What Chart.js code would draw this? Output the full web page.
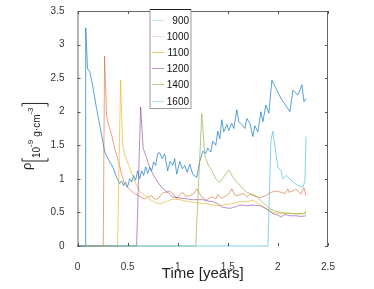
<!DOCTYPE html>
<html>
<head>
<meta charset="utf-8">
<script src="https://cdn.jsdelivr.net/npm/chart.js@4"></script>
<style>
  html, body { margin: 0; padding: 0; background: #fff; }
  #wrap { width: 374px; height: 289px; }
</style>
</head>
<body>
<div id="wrap"><canvas id="rhoChart" width="374" height="289"></canvas></div>
<script>
// legend labels
const labels = ['900', '1000', '1100', '1200', '1400', '1600'];

// time [years] and density values for each run
const t900 = [0, 0.075, 0.082, 0.10, 0.125, 0.157, 0.19, 0.24, 0.27, 0.30, 0.355, 0.39, 0.42, 0.44, 0.46, 0.48, 0.50, 0.52, 0.54, 0.56, 0.58, 0.60, 0.62, 0.64, 0.66, 0.68, 0.70, 0.72, 0.74, 0.76, 0.78, 0.80, 0.82, 0.845, 0.87, 0.90, 0.925, 0.95, 0.97, 0.99, 1.02, 1.045, 1.07, 1.095, 1.12, 1.15, 1.19, 1.22, 1.25, 1.28, 1.30, 1.33, 1.35, 1.38, 1.40, 1.42, 1.44, 1.46, 1.49, 1.51, 1.54, 1.56, 1.59, 1.61, 1.64, 1.67, 1.69, 1.72, 1.75, 1.77, 1.80, 1.83, 1.85, 1.88, 1.91, 1.94, 2.03, 2.12, 2.15, 2.20, 2.24, 2.26, 2.28];
const v900 = [0, 0, 3.25, 2.64, 2.59, 2.34, 2.05, 1.66, 1.41, 1.31, 1.17, 1.02, 0.93, 0.97, 0.90, 0.95, 0.88, 1.00, 0.95, 1.05, 0.98, 1.12, 1.00, 1.12, 1.05, 1.18, 1.08, 1.17, 1.12, 1.25, 1.20, 1.38, 1.39, 1.30, 1.37, 1.12, 1.26, 1.20, 1.30, 1.07, 1.26, 1.15, 1.20, 1.10, 1.22, 1.07, 1.02, 1.26, 1.41, 1.38, 1.46, 1.40, 1.56, 1.50, 1.71, 1.60, 1.88, 1.70, 1.81, 1.72, 1.83, 1.75, 2.03, 1.85, 1.81, 1.75, 1.90, 1.83, 1.63, 1.79, 1.70, 2.00, 1.85, 2.10, 1.98, 2.47, 2.20, 2.00, 2.32, 2.25, 2.40, 2.15, 2.20];

const t1000 = [0, 0.257, 0.27, 0.29, 0.31, 0.34, 0.37, 0.41, 0.44, 0.47, 0.50, 0.54, 0.57, 0.61, 0.64, 0.67, 0.70, 0.74, 0.77, 0.80, 0.83, 0.86, 0.89, 0.92, 0.95, 0.99, 1.02, 1.05, 1.08, 1.12, 1.16, 1.19, 1.24, 1.29, 1.32, 1.35, 1.38, 1.40, 1.44, 1.47, 1.49, 1.52, 1.54, 1.57, 1.59, 1.62, 1.66, 1.69, 1.72, 1.77, 1.82, 1.88, 1.93, 1.98, 2.03, 2.07, 2.10, 2.11, 2.15, 2.18, 2.23, 2.26, 2.28];
const v1000 = [0, 0, 2.83, 1.95, 1.80, 1.66, 1.46, 1.26, 1.07, 0.92, 0.87, 0.82, 0.78, 0.75, 0.72, 0.70, 0.73, 0.75, 0.70, 0.70, 0.76, 0.80, 0.80, 0.82, 0.78, 0.71, 0.76, 0.80, 0.74, 0.75, 0.78, 0.85, 0.73, 0.68, 0.72, 0.73, 0.70, 0.77, 0.71, 0.74, 0.75, 0.80, 0.85, 0.76, 0.75, 0.77, 0.78, 0.73, 0.77, 0.74, 0.72, 0.75, 0.80, 0.82, 0.80, 0.78, 0.85, 0.80, 0.82, 0.85, 0.77, 0.87, 0.75];

const t1100 = [0, 0.40, 0.43, 0.45, 0.47, 0.52, 0.57, 0.62, 0.69, 0.77, 0.82, 0.87, 0.95, 1.02, 1.08, 1.15, 1.22, 1.29, 1.35, 1.42, 1.48, 1.55, 1.62, 1.69, 1.75, 1.80, 1.85, 1.90, 1.95, 2.00, 2.05, 2.10, 2.18, 2.24, 2.27, 2.28];
const v1100 = [0, 0, 2.47, 1.51, 1.36, 1.17, 0.97, 0.82, 0.73, 0.65, 0.63, 0.65, 0.70, 0.69, 0.67, 0.65, 0.64, 0.63, 0.61, 0.60, 0.62, 0.63, 0.66, 0.66, 0.68, 0.64, 0.58, 0.54, 0.50, 0.49, 0.48, 0.49, 0.48, 0.48, 0.50, 0.53];

const t1200 = [0, 0.59, 0.63, 0.655, 0.69, 0.72, 0.77, 0.84, 0.90, 0.95, 1.00, 1.05, 1.10, 1.15, 1.20, 1.25, 1.30, 1.35, 1.40, 1.44, 1.48, 1.52, 1.57, 1.62, 1.69, 1.75, 1.82, 1.88, 1.95, 2.00, 2.03, 2.07, 2.12, 2.18, 2.23, 2.28];
const v1200 = [0, 0, 2.07, 1.46, 1.31, 1.17, 1.02, 0.87, 0.80, 0.73, 0.72, 0.71, 0.70, 0.69, 0.69, 0.69, 0.67, 0.66, 0.63, 0.58, 0.57, 0.56, 0.58, 0.61, 0.60, 0.61, 0.60, 0.56, 0.48, 0.46, 0.43, 0.47, 0.45, 0.45, 0.44, 0.45];

const t1400 = [0, 1.18, 1.24, 1.27, 1.30, 1.34, 1.38, 1.42, 1.46, 1.51, 1.55, 1.59, 1.64, 1.69, 1.74, 1.78, 1.85, 1.92, 2.02, 2.10, 2.15, 2.22, 2.27, 2.28];
const v1400 = [0, 0, 1.97, 1.36, 1.22, 1.12, 1.00, 0.95, 1.03, 1.13, 1.03, 0.95, 0.87, 0.80, 0.77, 0.75, 0.65, 0.55, 0.50, 0.49, 0.48, 0.48, 0.48, 0.52];

const t1600 = [0, 1.90, 1.93, 1.95, 1.98, 2.00, 2.03, 2.05, 2.08, 2.12, 2.15, 2.20, 2.25, 2.27, 2.28];
const v1600 = [0, 0, 1.56, 1.71, 1.39, 1.17, 1.12, 1.00, 1.05, 1.00, 0.95, 0.90, 0.88, 0.97, 1.63];

const xTicks = [0, 0.5, 1, 1.5, 2, 2.5];
const yTicks = [0, 0.5, 1, 1.5, 2, 2.5, 3, 3.5];

const times = [t900, t1000, t1100, t1200, t1400, t1600];
const values = [v900, v1000, v1100, v1200, v1400, v1600];

const lineColors = [
    'rgba(0, 114, 189, 0.65)',
    'rgba(217, 83, 25, 0.55)',
    'rgba(237, 177, 32, 0.65)',
    'rgba(126, 47, 142, 0.55)',
    'rgba(119, 172, 48, 0.6)',
    'rgba(77, 190, 238, 0.7)'
];
const legendColors = [
    'rgba(77, 190, 238, 0.35)',
    'rgba(240, 160, 110, 0.35)',
    'rgba(237, 177, 32, 0.7)',
    'rgba(126, 47, 142, 0.5)',
    'rgba(119, 172, 48, 0.6)',
    'rgba(77, 190, 238, 0.45)'
];

const FONT = '"Liberation Sans", Arial, sans-serif';

// box, inner ticks, legend and y label like the original figure
const figurePlugin = {
    id: 'figure',
    afterDraw(chart) {
        const ctx = chart.ctx;
        const a = chart.chartArea;
        const xs = chart.scales.x, ys = chart.scales.y;
        ctx.save();
        ctx.lineWidth = 1;
        ctx.strokeStyle = '#666';
        ctx.beginPath();
        ctx.moveTo(a.left + 0.5, a.bottom);
        ctx.lineTo(a.left + 0.5, a.top + 0.5);
        ctx.lineTo(a.right - 0.5, a.top + 0.5);
        ctx.lineTo(a.right - 0.5, a.bottom);
        ctx.stroke();
        ctx.strokeStyle = '#555';
        ctx.beginPath();
        yTicks.forEach(v => {
            const y = Math.round(ys.getPixelForValue(v)) + 0.5;
            ctx.moveTo(a.left, y); ctx.lineTo(a.left + 3, y);
            ctx.moveTo(a.right, y); ctx.lineTo(a.right - 3, y);
        });
        xTicks.forEach(v => {
            const x = Math.round(xs.getPixelForValue(v)) + 0.5;
            ctx.moveTo(x, a.bottom); ctx.lineTo(x, a.bottom - 3);
            ctx.moveTo(x, a.top); ctx.lineTo(x, a.top + 3);
        });
        ctx.stroke();

        // legend box
        const lx = a.left + 72.5, ly = a.top - 1.5, lw = 41, lh = 99;
        ctx.fillStyle = '#fff';
        ctx.fillRect(lx, ly, lw, lh);
        ctx.strokeStyle = '#999';
        ctx.strokeRect(lx, ly, lw, lh);
        ctx.strokeStyle = '#222';
        ctx.beginPath(); ctx.moveTo(lx, ly); ctx.lineTo(lx + lw, ly); ctx.stroke();
        ctx.font = '10px ' + FONT;
        ctx.textAlign = 'right';
        ctx.textBaseline = 'middle';
        labels.forEach((lab, i) => {
            const yy = Math.round(ly + 10 + i * 16.2) + 0.5;
            ctx.strokeStyle = legendColors[i];
            ctx.beginPath(); ctx.moveTo(lx + 2, yy); ctx.lineTo(lx + 14, yy); ctx.stroke();
            ctx.fillStyle = '#111';
            ctx.fillText(lab, lx + lw - 2, yy + 1);
        });

        // y axis label: rho [10^-9 g cm^-3]
        ctx.translate(40, 170);
        ctx.rotate(-Math.PI / 2);
        ctx.fillStyle = '#222';
        ctx.strokeStyle = '#222';
        ctx.textAlign = 'left';
        ctx.textBaseline = 'alphabetic';
        ctx.font = '13px ' + FONT;
        ctx.fillText('ρ', 0, -9);
        let x = 9;
        ctx.lineWidth = 1;
        ctx.beginPath();
        ctx.moveTo(x + 3, -18); ctx.lineTo(x, -18); ctx.lineTo(x, 8); ctx.lineTo(x + 3, 8);
        ctx.stroke();
        x += 3;
        ctx.font = '10px ' + FONT;
        ctx.fillText('10', x, 0);
        x += ctx.measureText('10').width;
        ctx.font = '8px ' + FONT;
        ctx.fillText('-9', x, -7);
        x += ctx.measureText('-9').width + 3;
        ctx.font = '10px ' + FONT;
        ctx.fillText('g·cm', x, 0);
        x += ctx.measureText('g·cm').width;
        ctx.font = '8px ' + FONT;
        ctx.fillText('-3', x, -7);
        x += ctx.measureText('-3').width + 4;
        ctx.beginPath();
        ctx.moveTo(x - 3, -18); ctx.lineTo(x, -18); ctx.lineTo(x, 8); ctx.lineTo(x - 3, 8);
        ctx.stroke();
        ctx.restore();
    }
};

const datasets = labels.map((lab, i) => ({
    label: lab,
    data: times[i].map((t, k) => ({ x: t, y: values[i][k] })),
    borderColor: lineColors[i],
    backgroundColor: lineColors[i],
    borderWidth: 1,
    pointRadius: 0,
    tension: 0,
    clip: 3,
    order: labels.length - i
}));

new Chart(document.getElementById('rhoChart'), {
    type: 'line',
    data: { datasets: datasets },
    options: {
        responsive: false,
        animation: false,
        events: [],
        layout: { padding: { top: 8, right: 46, left: 0, bottom: 0 } },
        plugins: {
            legend: { display: false },
            tooltip: { enabled: false }
        },
        scales: {
            x: {
                type: 'linear',
                min: 0,
                max: 2.5,
                afterFit: s => { s.height = 43; },
                afterBuildTicks: s => { s.ticks = xTicks.map(v => ({ value: v })); },
                grid: { display: false },
                border: { display: false },
                ticks: { color: '#333', font: { size: 10, family: FONT }, padding: 7, maxRotation: 0, callback: v => String(v) },
                title: {
                    display: true,
                    text: 'Time [years]',
                    color: '#222',
                    font: { size: 15, family: FONT },
                    padding: { top: 0, bottom: 6 }
                }
            },
            y: {
                type: 'linear',
                min: 0,
                max: 3.5,
                afterFit: s => { s.width = 77.5; },
                afterBuildTicks: s => { s.ticks = yTicks.map(v => ({ value: v })); },
                grid: { display: false },
                border: { display: false },
                ticks: { color: '#333', font: { size: 10, family: FONT }, padding: 5, callback: v => String(v) }
            }
        }
    },
    plugins: [figurePlugin]
});
</script>
</body>
</html>
